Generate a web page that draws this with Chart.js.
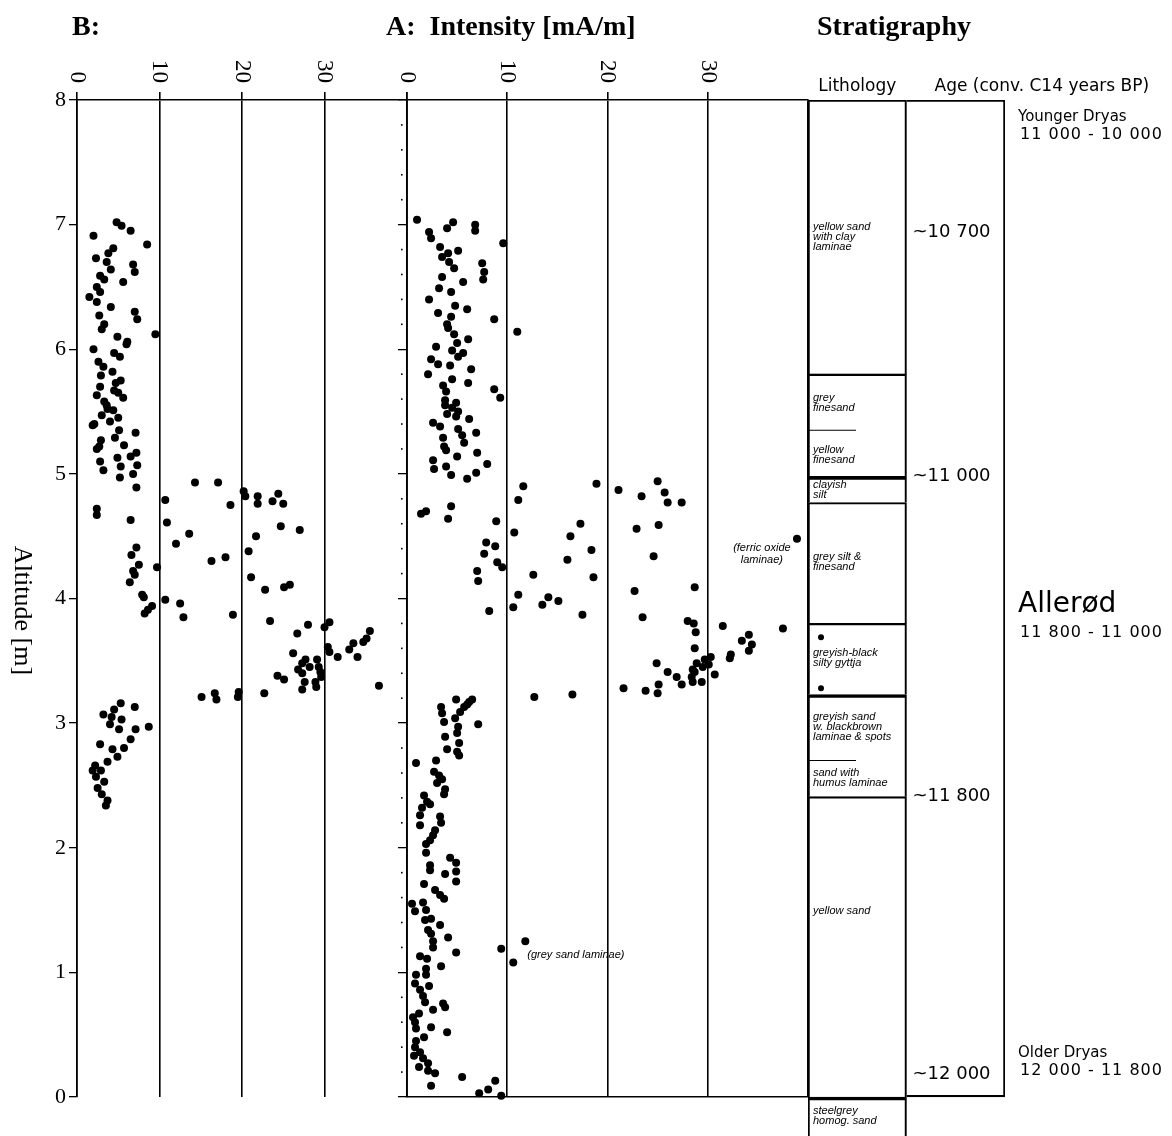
<!DOCTYPE html>
<html>
<head>
<meta charset="utf-8">
<script src="https://cdn.jsdelivr.net/npm/chart.js@4.4.1/dist/chart.umd.min.js"></script>
<style>
body { margin: 0; background: #fff; width: 1172px; height: 1136px; position: relative; overflow: hidden; }
canvas { position: absolute; top: 0; }
.title { position: absolute; top: 10px; font: bold 28px "Liberation Serif", serif; color: #000; white-space: pre; }
</style>
</head>
<body>
<canvas id="chartB" width="420" height="1136" style="left:0"></canvas>
<canvas id="chartA" width="420" height="1136" style="left:395px"></canvas>
<canvas id="chartS" width="377" height="1136" style="left:795px"></canvas>
<div class="title" style="left:72px">B:</div>
<div class="title" style="left:386px">A:  Intensity [mA/m]</div>
<div class="title" style="left:817px">Stratigraphy</div>
<script>
// intensity tick labels (mA/m), same for both panels
const intensityTicks = [0, 10, 20, 30]

// panel B
const bIntensity = [4.8,5.4,6.5,2.0,8.5,4.4,3.8,2.3,3.6,4.1,6.8,7.0,2.8,3.3,5.6,2.4,2.8,1.5,2.4,4.1,7.0,7.3,2.7,3.3,3.0,9.5,4.9,6.1,6.0,2.0,
    4.5,5.2,2.6,3.2,4.3,2.9,5.3,4.7,2.8,4.5,5.0,5.6,2.4,3.3,3.6,3.7,4.4,3.0,5.0,4.0,1.9,2.1,5.1,7.1,4.6,2.9,5.7,2.4,2.7,7.2,
    6.5,4.9,2.8,5.3,7.3,3.2,6.8,5.2,7.2,14.3,17.1,20.2,20.4,21.9,21.9,24.4,23.7,25.0,10.7,2.4,2.4,18.6,6.5,10.9,13.6,24.7,27.0,21.7,12.0,7.2,
    6.6,20.8,18.0,16.3,7.5,9.7,6.8,7.0,21.1,6.4,22.8,25.1,25.8,7.9,8.1,10.7,12.5,12.9,9.1,8.6,8.2,18.9,23.4,28.0,26.7,30.0,30.6,30.4,30.6,31.6,
    33.0,33.5,34.0,34.7,35.1,35.5,26.2,27.7,27.3,28.2,26.8,27.3,29.1,29.3,29.5,29.6,27.6,27.3,28.9,29.0,24.3,25.1,36.6,22.7,15.1,16.7,16.9,19.6,19.5,
    3.2,4.5,4.2,4.0,5.3,5.4,7.0,7.1,8.7,5.1,2.8,4.3,5.7,6.5,4.9,3.7,2.2,2.9,1.9,2.3,3.3,2.5,3.0,3.7,3.5]
const bAltitude = [7.02,6.99,6.95,6.91,6.84,6.81,6.77,6.73,6.70,6.64,6.68,6.62,6.59,6.56,6.54,6.50,6.46,6.42,6.38,6.34,6.30,6.24,6.27,6.20,6.16,6.12,6.10,6.06,6.04,6.00,
    5.97,5.94,5.90,5.86,5.82,5.79,5.75,5.73,5.70,5.67,5.65,5.61,5.63,5.58,5.55,5.52,5.51,5.47,5.45,5.42,5.39,5.40,5.35,5.33,5.29,5.27,5.23,5.20,5.22,5.17,
    5.14,5.13,5.10,5.06,5.07,5.03,5.00,4.97,4.89,4.93,4.93,4.86,4.82,4.82,4.76,4.84,4.78,4.76,4.79,4.72,4.67,4.75,4.63,4.61,4.52,4.58,4.55,4.50,4.44,4.41,
    4.35,4.38,4.33,4.30,4.27,4.25,4.22,4.19,4.17,4.13,4.07,4.09,4.11,4.03,4.01,3.99,3.96,3.85,3.94,3.91,3.88,3.87,3.82,3.79,3.72,3.77,3.81,3.61,3.57,3.53,
    3.59,3.64,3.53,3.65,3.68,3.74,3.56,3.51,3.48,3.45,3.43,3.40,3.51,3.45,3.41,3.37,3.33,3.27,3.33,3.29,3.38,3.35,3.30,3.24,3.21,3.24,3.19,3.25,3.21,
    3.07,3.11,3.05,2.99,3.16,3.03,3.13,2.95,2.97,2.95,2.83,2.79,2.80,2.87,2.73,2.69,2.66,2.62,2.62,2.57,2.53,2.48,2.43,2.38,2.34]

// panel A
const aIntensity = [1.0,4.6,4.0,6.8,6.8,2.2,2.4,9.6,3.3,4.1,5.1,3.5,4.2,4.7,7.5,7.7,7.6,3.5,5.6,3.2,4.4,2.2,4.8,6.0,3.1,4.4,8.7,4.0,4.1,11.0,
    4.7,6.1,5.0,2.9,4.5,5.6,5.1,2.4,3.1,4.3,6.4,2.1,4.5,6.1,3.6,3.9,8.7,9.3,3.8,3.8,4.9,4.5,5.1,4.9,4.0,2.6,3.3,6.2,5.1,5.5,
    5.7,6.9,3.6,3.7,3.9,5.0,7.0,2.6,2.7,3.9,4.4,8.0,6.0,6.9,11.6,11.1,18.9,21.1,23.4,25.0,25.7,26.0,27.4,1.4,1.9,4.4,4.1,8.9,10.7,17.3,
    16.3,22.9,25.1,7.9,7.7,8.8,9.0,9.5,18.4,16.0,24.6,7.0,7.1,12.6,18.6,11.1,10.6,14.1,13.5,15.1,8.2,17.5,22.7,28.7,23.5,38.9,28.0,28.6,28.8,28.7,
    31.5,37.5,34.1,33.4,34.4,34.1,32.3,32.2,30.3,29.7,30.1,29.5,28.9,28.5,28.7,28.4,28.5,30.7,29.4,24.9,26.0,26.9,27.4,25.1,25.0,21.6,23.8,12.7,16.5,6.2,
    6.5,5.7,5.3,3.4,3.5,3.7,4.8,5.1,5.0,7.1,6.0,4.9,3.8,5.2,4.0,5.0,5.2,0.9,2.9,2.7,3.2,3.5,3.0,3.8,3.7,1.7,2.0,2.3,1.5,1.3,
    1.3,3.3,3.4,2.8,2.6,2.3,1.9,1.9,4.3,4.9,4.9,4.9,2.3,2.3,3.8,1.7,2.8,3.3,3.7,0.5,0.8,1.6,1.9,1.8,2.4,3.3,2.1,2.4,2.6,2.6,
    4.1,4.9,9.4,11.8,10.6,1.3,2.0,3.4,1.9,1.9,0.9,0.8,2.2,1.3,1.6,1.8,3.6,3.8,2.6,1.2,0.6,0.8,0.9,2.4,4.0,1.7,0.9,0.8,0.7,1.3,
    1.6,1.2,2.1,2.1,2.8,2.4,5.5,7.2,8.1,8.8,9.4]
const aAltitude = [7.04,7.02,6.97,7.00,6.95,6.94,6.89,6.85,6.82,6.77,6.79,6.74,6.70,6.65,6.69,6.62,6.56,6.58,6.54,6.49,6.46,6.40,6.35,6.32,6.29,6.26,6.24,6.20,6.17,6.14,
    6.12,6.08,6.05,6.02,5.99,5.97,5.94,5.92,5.88,5.87,5.84,5.80,5.76,5.73,5.71,5.66,5.68,5.61,5.59,5.55,5.57,5.53,5.50,5.46,5.48,5.41,5.38,5.44,5.36,5.31,
    5.25,5.33,5.29,5.22,5.19,5.14,5.17,5.11,5.04,5.06,4.99,5.08,4.96,5.01,4.90,4.79,4.92,4.87,4.82,4.94,4.85,4.77,4.77,4.68,4.70,4.74,4.64,4.62,4.53,4.60,
    4.50,4.56,4.59,4.45,4.36,4.42,4.29,4.25,4.39,4.31,4.34,4.22,4.14,4.19,4.17,4.03,3.93,4.01,3.95,3.98,3.90,3.87,4.06,4.09,3.85,4.48,3.82,3.80,3.73,3.60,
    3.78,3.76,3.71,3.66,3.63,3.58,3.55,3.52,3.53,3.51,3.47,3.45,3.48,3.43,3.41,3.37,3.33,3.39,3.33,3.48,3.41,3.37,3.31,3.31,3.24,3.28,3.26,3.21,3.23,3.17,
    3.19,3.13,3.09,3.13,3.08,3.01,3.04,2.97,2.92,2.99,3.15,3.19,2.89,2.84,2.79,2.77,2.74,2.68,2.70,2.61,2.58,2.55,2.52,2.47,2.43,2.42,2.37,2.35,2.32,2.26,
    2.18,2.25,2.20,2.14,2.10,2.06,2.03,1.96,1.92,1.88,1.81,1.73,1.86,1.82,1.79,1.71,1.66,1.62,1.59,1.55,1.49,1.56,1.50,1.42,1.43,1.38,1.34,1.31,1.25,1.20,
    1.28,1.16,1.19,1.25,1.08,1.13,1.11,1.05,1.03,0.98,0.98,0.91,0.89,0.86,0.81,0.76,0.75,0.72,0.70,0.67,0.64,0.60,0.55,0.56,0.52,0.48,0.45,0.40,0.33,0.36,
    0.31,0.24,0.27,0.21,0.19,0.09,0.16,0.03,0.06,0.13,0.01]

// panel A notes
const aNotes = [['(ferric oxide', 'laminae)'], ['(grey sand laminae)']]
const aNoteIntensity = [35.4, 12.0]
const aNoteAltitude = [4.36, 1.14]

// stratigraphy: lithology units (top / base, altitude m)
const lithoTop = [8, 5.80, 4.98, 4.77, 3.80, 3.23, 2.41, 0]
const lithoBase = [5.80, 4.98, 4.77, 3.80, 3.23, 2.41, 0, -0.313]
const thickTops = [4.98, 3.23, 0]
const subBounds = [5.35, 2.70]
const gyttjaMarks = [3.69, 3.28]
const lithoLabels = [
    ['yellow sand', 'with clay', 'laminae'],
    ['grey', 'finesand'],
    ['yellow', 'finesand'],
    ['clayish', 'silt'],
    ['grey silt &', 'finesand'],
    ['greyish-black', 'silty gyttja'],
    ['greyish sand', 'w. blackbrown', 'laminae & spots'],
    ['sand with', 'humus laminae'],
    ['yellow sand'],
    ['steelgrey', 'homog. sand']
]
const lithoLabelAlt = [6.90, 5.57, 5.15, 4.87, 4.29, 3.52, 2.97, 2.56, 1.49, -0.15]

// ages
const ageLabels = ['~10 700', '~11 000', '~11 800', '~12 000']
const ageAlt = [6.94, 4.98, 2.41, 0.18]
const periodNames = ['Younger Dryas', 'Allerød', 'Older Dryas']
const periodRanges = ['11 000 - 10 000', '11 800 - 11 000', '12 000 - 11 800']
const periodAlt = [7.86, 3.95, 0.35]

const serif = '"Liberation Serif", "Times New Roman", serif'
const sans = '"DejaVu Sans", sans-serif'

function points(xs, ys) {
    return xs.map((x, i) => ({ x: x, y: ys[i] }))
}

// rotated intensity labels above the top axis
const topLabels = {
    id: 'topLabels',
    afterDraw(chart) {
        const s = chart.scales.x
        const ctx = chart.ctx
        ctx.save()
        ctx.font = '23px ' + serif
        ctx.fillStyle = '#000'
        ctx.textAlign = 'right'
        ctx.textBaseline = 'middle'
        intensityTicks.forEach(v => {
            ctx.save()
            ctx.translate(s.getPixelForValue(v), 83)
            ctx.rotate(Math.PI / 2)
            ctx.fillText(String(v), 0, 0)
            ctx.restore()
        })
        ctx.restore()
    }
}

const yTitle = {
    id: 'yTitle',
    afterDraw(chart) {
        const ctx = chart.ctx
        const a = chart.chartArea
        ctx.save()
        ctx.font = '26px ' + serif
        ctx.fillStyle = '#000'
        ctx.textAlign = 'center'
        ctx.textBaseline = 'middle'
        ctx.translate(22, (a.top + a.bottom) / 2 + 12)
        ctx.rotate(Math.PI / 2)
        ctx.fillText('Altitude [m]', 0, 0)
        ctx.restore()
    }
}

// minor ticks (dots) on the left edge of panel A, plus the notes
const aExtras = {
    id: 'aExtras',
    afterDraw(chart) {
        const ctx = chart.ctx
        const y = chart.scales.y
        const x = chart.scales.x
        const left = chart.chartArea.left
        ctx.save()
        ctx.fillStyle = '#000'
        for (let k = 1; k < 40; k++) {
            if (k % 5 === 0) continue
            ctx.fillRect(left - 6, y.getPixelForValue(k * 0.2) - 0.8, 1.6, 1.6)
        }
        ctx.font = 'italic 11px "Liberation Sans", sans-serif'
        ctx.textBaseline = 'middle'
        aNotes.forEach((lines, i) => {
            ctx.textAlign = lines.length > 1 ? 'center' : 'left'
            lines.forEach((t, j) => {
                const py = y.getPixelForValue(aNoteAltitude[i]) + (j - (lines.length - 1) / 2) * 12
                ctx.fillText(t, x.getPixelForValue(aNoteIntensity[i]), py)
            })
        })
        ctx.restore()
    }
}

const blackDots = {
    pointRadius: 4,
    pointHoverRadius: 4,
    pointBackgroundColor: '#000',
    pointBorderWidth: 0,
    clip: 8
}

function topAxis(hideLast) {
    return {
        type: 'linear', position: 'top', min: 0, max: 40,
        ticks: { stepSize: 10, display: false },
        grid: {
            color: '#000', lineWidth: 1.6, tickLength: 8,
            tickColor: ctx => (hideLast && ctx.tick && ctx.tick.value === 40) ? 'rgba(0,0,0,0)' : '#000'
        },
        border: { color: '#000', width: 1.6 },
        afterFit(s) { s.height = 100 }
    }
}

new Chart(document.getElementById('chartB'), {
    type: 'scatter',
    data: { datasets: [Object.assign({ data: points(bIntensity, bAltitude) }, blackDots)] },
    options: {
        responsive: false,
        animation: false,
        events: [],
        layout: { padding: { top: 0, right: 13, bottom: 39, left: 0 } },
        plugins: { legend: { display: false }, tooltip: { enabled: false } },
        scales: {
            x: topAxis(false),
            y: {
                min: 0, max: 8,
                ticks: { stepSize: 1, color: '#000', font: { family: serif, size: 22 }, padding: 3 },
                grid: { drawOnChartArea: false, color: '#000', tickLength: 8, lineWidth: 1.3 },
                border: { color: '#000', width: 1.6 },
                afterFit(s) { s.width = 77 }
            }
        }
    },
    plugins: [topLabels, yTitle]
})

new Chart(document.getElementById('chartA'), {
    type: 'scatter',
    data: { datasets: [Object.assign({ data: points(aIntensity, aAltitude) }, blackDots)] },
    options: {
        responsive: false,
        animation: false,
        events: [],
        layout: { padding: { top: 0, right: 7, bottom: 0, left: 0 } },
        plugins: { legend: { display: false }, tooltip: { enabled: false } },
        scales: {
            x: topAxis(true),
            xb: {
                type: 'linear', position: 'bottom', min: 0, max: 40,
                ticks: { display: false },
                grid: { display: false },
                border: { color: '#000', width: 1.6 },
                afterFit(s) { s.height = 39 }
            },
            y: {
                min: 0, max: 8,
                ticks: { stepSize: 1, display: false },
                grid: { drawOnChartArea: false, color: '#000', tickLength: 9, lineWidth: 1.3 },
                border: { color: '#000', width: 1.6 },
                afterFit(s) { s.width = 12 }
            }
        }
    },
    plugins: [topLabels, aExtras]
})

// stratigraphy column as floating bars
const stratSets = lithoTop.map((top, i) => ({
    data: [[lithoBase[i], top], null],
    grouped: false,
    barPercentage: 1,
    categoryPercentage: 1,
    backgroundColor: 'rgba(0,0,0,0)',
    borderColor: '#000',
    borderSkipped: false,
    borderWidth: { top: thickTops.includes(top) ? 3 : 1.4, left: 1.4, right: 1.4, bottom: 0 }
}))
stratSets.push({
    data: [null, [0, 8]],
    grouped: false,
    barPercentage: 1,
    categoryPercentage: 1,
    backgroundColor: 'rgba(0,0,0,0)',
    borderColor: '#000',
    borderSkipped: false,
    borderWidth: { top: 1.4, left: 0, right: 1.4, bottom: 1.6 }
})

const stratText = {
    id: 'stratText',
    afterDatasetsDraw(chart) {
        const ctx = chart.ctx
        const a = chart.chartArea
        const y = chart.scales.y
        const colW = a.width / 2
        const lithoLeft = a.left
        const ageLeft = a.left + colW
        ctx.save()
        ctx.fillStyle = '#000'
        ctx.strokeStyle = '#000'
        ctx.textBaseline = 'middle'

        ctx.font = '17px ' + sans
        ctx.textAlign = 'center'
        ctx.fillText('Lithology', lithoLeft + colW / 2, 87)
        ctx.textAlign = 'left'
        ctx.fillText('Age (conv. C14 years BP)', ageLeft + 28, 87)

        ctx.lineWidth = 1.2
        subBounds.forEach(v => {
            const py = y.getPixelForValue(v)
            ctx.beginPath()
            ctx.moveTo(lithoLeft, py)
            ctx.lineTo(lithoLeft + 48, py)
            ctx.stroke()
        })
        gyttjaMarks.forEach(v => {
            ctx.beginPath()
            ctx.arc(lithoLeft + 13, y.getPixelForValue(v), 3, 0, Math.PI * 2)
            ctx.fill()
        })

        ctx.font = 'italic 11px "Liberation Sans", sans-serif'
        lithoLabels.forEach((lines, i) => {
            lines.forEach((t, j) => {
                const py = y.getPixelForValue(lithoLabelAlt[i]) + (j - (lines.length - 1) / 2) * 10
                ctx.fillText(t, lithoLeft + 5, py)
            })
        })

        ctx.font = '18px ' + sans
        ageLabels.forEach((t, i) => {
            ctx.fillText(t, ageLeft + 6, y.getPixelForValue(ageAlt[i]))
        })

        periodNames.forEach((name, i) => {
            const py = y.getPixelForValue(periodAlt[i])
            const big = name === 'Allerød'
            ctx.font = (big ? '28px ' : '15px ') + sans
            ctx.letterSpacing = '0px'
            ctx.fillText(name, a.right + 13, py)
            ctx.font = '16px ' + sans
            ctx.letterSpacing = '1px'
            ctx.fillText(periodRanges[i], a.right + 15, py + (big ? 28 : 17))
        })
        ctx.restore()
    }
}

new Chart(document.getElementById('chartS'), {
    type: 'bar',
    data: { labels: ['Lithology', 'Age'], datasets: stratSets },
    options: {
        responsive: false,
        animation: false,
        events: [],
        layout: { padding: { top: 100, right: 167, bottom: 0, left: 13 } },
        plugins: { legend: { display: false }, tooltip: { enabled: false } },
        scales: {
            x: { type: 'category', display: false },
            y: { min: -0.313, max: 8, display: false }
        }
    },
    plugins: [stratText]
})
</script>
</body>
</html>
